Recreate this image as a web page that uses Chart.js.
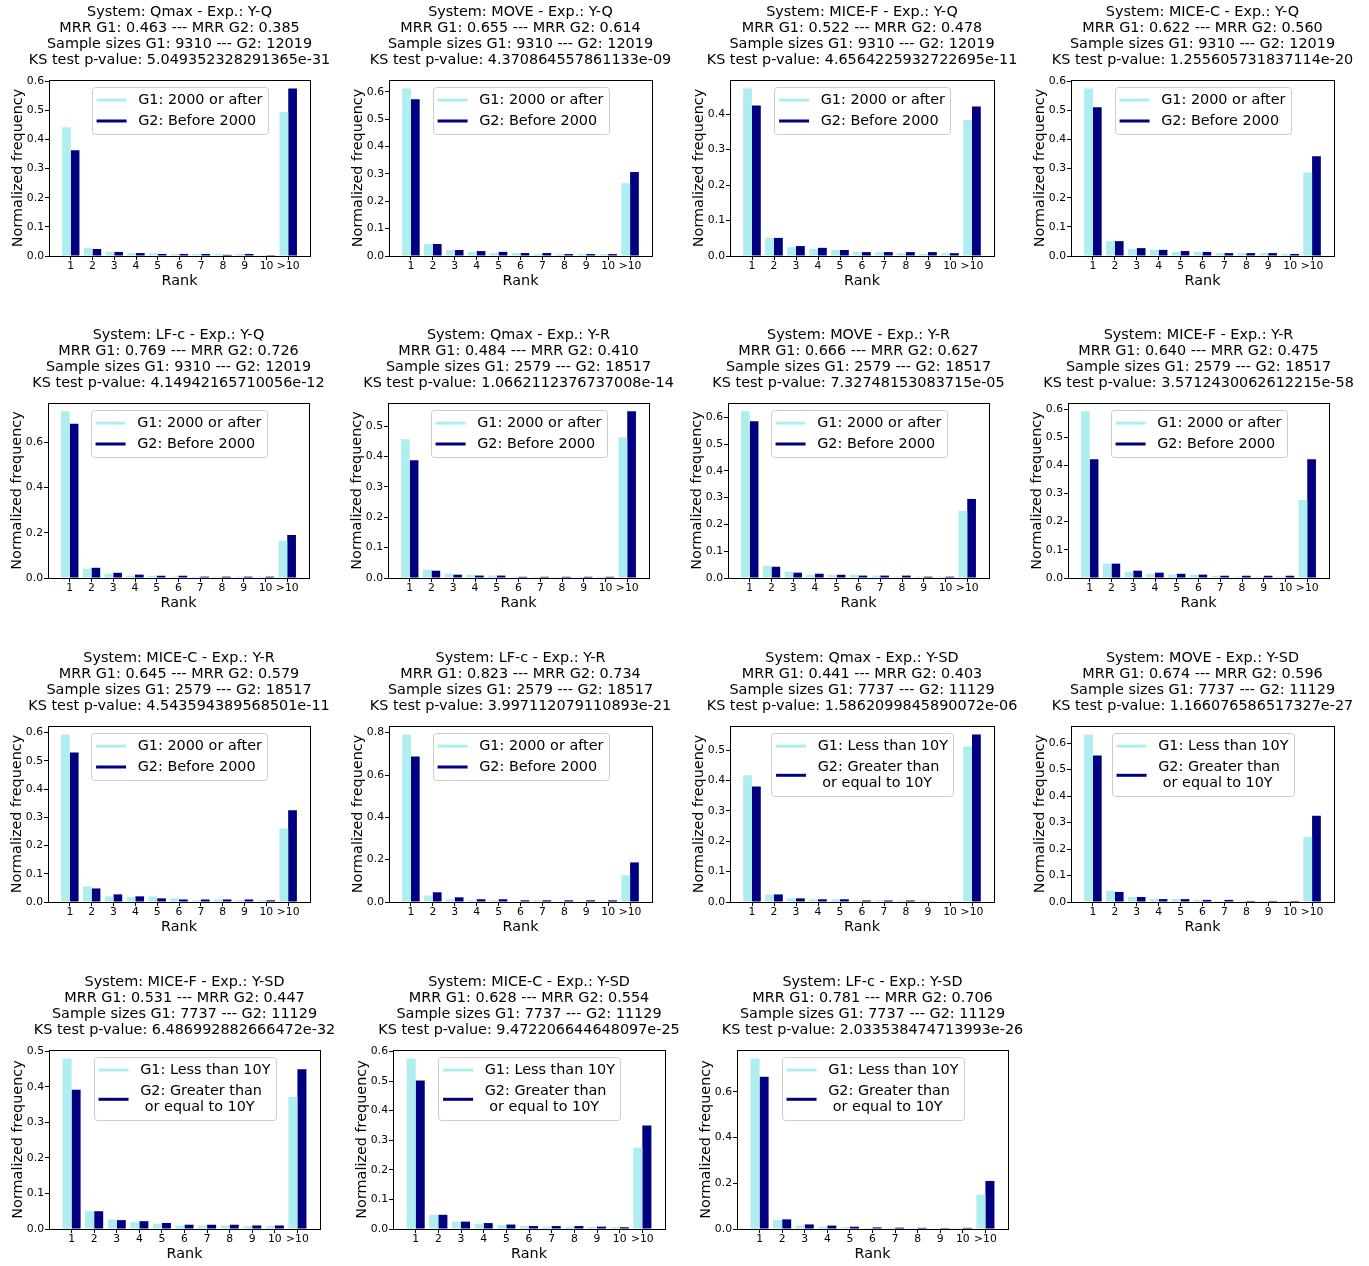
<!DOCTYPE html>
<html>
<head>
<meta charset="utf-8">
<script src="https://cdn.jsdelivr.net/npm/chart.js@4.4.0/dist/chart.umd.min.js"></script>
<style>
  html, body { margin: 0; padding: 0; background: #fff; overflow: hidden; }
  body { width: 1369px; height: 1266px; position: relative; }
  .cell { position: absolute; }
</style>
</head>
<body>
<div id="grid"></div>
<script>
const rankLabels = ['1', '2', '3', '4', '5', '6', '7', '8', '9', '10', '>10'];
const systems = ['Qmax', 'MOVE', 'MICE-F', 'MICE-C', 'LF-c', 'Qmax', 'MOVE', 'MICE-F', 'MICE-C', 'LF-c', 'Qmax', 'MOVE', 'MICE-F', 'MICE-C', 'LF-c'];
const experiments = ['Y-Q', 'Y-Q', 'Y-Q', 'Y-Q', 'Y-Q', 'Y-R', 'Y-R', 'Y-R', 'Y-R', 'Y-R', 'Y-SD', 'Y-SD', 'Y-SD', 'Y-SD', 'Y-SD'];
const mrrG1 = ['0.463', '0.655', '0.522', '0.622', '0.769', '0.484', '0.666', '0.640', '0.645', '0.823', '0.441', '0.674', '0.531', '0.628', '0.781'];
const mrrG2 = ['0.385', '0.614', '0.478', '0.560', '0.726', '0.410', '0.627', '0.475', '0.579', '0.734', '0.403', '0.596', '0.447', '0.554', '0.706'];
const sizeG1 = [9310, 9310, 9310, 9310, 9310, 2579, 2579, 2579, 2579, 2579, 7737, 7737, 7737, 7737, 7737];
const sizeG2 = [12019, 12019, 12019, 12019, 12019, 18517, 18517, 18517, 18517, 18517, 11129, 11129, 11129, 11129, 11129];
const ksPValues = ['5.049352328291365e-31', '4.370864557861133e-09', '4.6564225932722695e-11', '1.255605731837114e-20',
  '4.14942165710056e-12', '1.0662112376737008e-14', '7.32748153083715e-05', '3.5712430062612215e-58',
  '4.543594389568501e-11', '3.997112079110893e-21', '1.5862099845890072e-06', '1.166076586517327e-27',
  '6.486992882666472e-32', '9.472206644648097e-25', '2.033538474713993e-26'];

// legend names per experiment
const expNames = ['Y-Q', 'Y-R', 'Y-SD'];
const g1Names = ['G1: 2000 or after', 'G1: 2000 or after', 'G1: Less than 10Y'];
const g2Names = ['G2: Before 2000', 'G2: Before 2000', 'G2: Greater than\n or equal to 10Y'];

// normalized frequency per rank (1..10, >10)
const g1Freq = [
  [0.442, 0.027, 0.014, 0.010, 0.010, 0.007, 0.007, 0.007, 0.007, 0.003, 0.494],
  [0.613, 0.044, 0.022, 0.015, 0.011, 0.011, 0.007, 0.007, 0.007, 0.007, 0.266],
  [0.473, 0.051, 0.025, 0.020, 0.017, 0.011, 0.011, 0.008, 0.006, 0.008, 0.384],
  [0.575, 0.051, 0.024, 0.021, 0.014, 0.014, 0.010, 0.010, 0.010, 0.007, 0.287],
  [0.736, 0.041, 0.019, 0.010, 0.010, 0.006, 0.006, 0.006, 0.006, 0.006, 0.164],
  [0.457, 0.027, 0.014, 0.011, 0.008, 0.004, 0.004, 0.004, 0.004, 0.004, 0.464],
  [0.622, 0.046, 0.024, 0.012, 0.012, 0.012, 0.009, 0.005, 0.005, 0.005, 0.250],
  [0.592, 0.051, 0.022, 0.015, 0.012, 0.012, 0.008, 0.005, 0.005, 0.005, 0.277],
  [0.594, 0.055, 0.020, 0.017, 0.020, 0.013, 0.006, 0.009, 0.006, 0.006, 0.261],
  [0.792, 0.031, 0.013, 0.008, 0.008, 0.002, 0.008, 0.002, 0.002, 0.002, 0.126],
  [0.417, 0.025, 0.012, 0.009, 0.009, 0.005, 0.005, 0.005, 0.005, 0.001, 0.512],
  [0.633, 0.042, 0.019, 0.011, 0.011, 0.008, 0.004, 0.004, 0.004, 0.004, 0.246],
  [0.480, 0.050, 0.027, 0.020, 0.015, 0.010, 0.010, 0.010, 0.008, 0.008, 0.372],
  [0.576, 0.048, 0.025, 0.018, 0.013, 0.010, 0.008, 0.008, 0.007, 0.006, 0.275],
  [0.745, 0.040, 0.015, 0.010, 0.008, 0.005, 0.005, 0.004, 0.003, 0.004, 0.150]
];
const g2Freq = [
  [0.363, 0.024, 0.014, 0.010, 0.007, 0.007, 0.007, 0.004, 0.007, 0.003, 0.575],
  [0.573, 0.044, 0.022, 0.018, 0.015, 0.011, 0.011, 0.007, 0.007, 0.007, 0.307],
  [0.425, 0.051, 0.028, 0.023, 0.017, 0.011, 0.011, 0.011, 0.011, 0.008, 0.422],
  [0.510, 0.051, 0.027, 0.021, 0.017, 0.014, 0.010, 0.010, 0.010, 0.007, 0.342],
  [0.681, 0.045, 0.023, 0.015, 0.010, 0.010, 0.006, 0.006, 0.006, 0.006, 0.190],
  [0.388, 0.024, 0.011, 0.008, 0.008, 0.004, 0.004, 0.004, 0.004, 0.004, 0.549],
  [0.585, 0.042, 0.020, 0.016, 0.012, 0.009, 0.009, 0.009, 0.005, 0.005, 0.295],
  [0.422, 0.051, 0.026, 0.019, 0.015, 0.012, 0.008, 0.008, 0.008, 0.008, 0.422],
  [0.530, 0.048, 0.027, 0.020, 0.013, 0.009, 0.009, 0.009, 0.009, 0.006, 0.325],
  [0.688, 0.046, 0.022, 0.013, 0.013, 0.008, 0.008, 0.008, 0.008, 0.008, 0.187],
  [0.380, 0.025, 0.012, 0.009, 0.009, 0.005, 0.005, 0.005, 0.002, 0.002, 0.552],
  [0.553, 0.038, 0.019, 0.011, 0.011, 0.008, 0.008, 0.004, 0.004, 0.004, 0.326],
  [0.392, 0.050, 0.025, 0.022, 0.017, 0.012, 0.012, 0.012, 0.010, 0.010, 0.450],
  [0.502, 0.048, 0.025, 0.020, 0.015, 0.010, 0.010, 0.010, 0.008, 0.006, 0.350],
  [0.665, 0.042, 0.020, 0.015, 0.010, 0.007, 0.006, 0.005, 0.004, 0.005, 0.210]
];

// plot area of each subplot on the page: [left, top, right, bottom]
const plotBoxes = [
  [49, 80, 310, 256], [389, 80, 652, 256], [730, 80, 994, 256], [1071, 80, 1334, 256],
  [48, 403, 309, 578], [388, 403, 649, 578], [728, 403, 989, 578], [1068, 403, 1329, 578],
  [48, 726, 310, 902], [389, 726, 652, 902], [730, 726, 994, 902], [1071, 726, 1334, 902],
  [49, 1050, 320, 1229], [393, 1050, 665, 1229], [737, 1050, 1008, 1229]
];

const FONT = 'DejaVu Sans';
const G1_COLOR = '#afeeee';
const G2_COLOR = '#000080';
Chart.defaults.font.family = FONT;
Chart.defaults.color = '#000';

const align = v => Math.round(v - 0.5) + 0.5;

// keep the title centred over the plot, like matplotlib
const centerTitle = {
  id: 'centerTitle',
  afterLayout(chart) {
    const t = chart.titleBlock, a = chart.chartArea;
    const cx = (a.left + a.right) / 2;
    t.left = cx - 200;
    t.right = cx + 200;
  }
};

// box spines on all four sides
const frame = {
  id: 'frame',
  afterDatasetsDraw(chart) {
    const {ctx, chartArea: a} = chart;
    ctx.save();
    ctx.strokeStyle = '#000';
    ctx.lineWidth = 1;
    ctx.strokeRect(align(a.left), align(a.top), align(a.right) - align(a.left), align(a.bottom) - align(a.top));
    ctx.restore();
  }
};

// matplotlib-style legend box, upper centre of the axes
const boxLegend = {
  id: 'boxLegend',
  afterDraw(chart) {
    const {ctx, chartArea: a} = chart;
    const fs = 14.4, lh = 16.6, padX = 5, padY = 4.6, gap = 4.3, hl = 30, htp = 11.6;
    ctx.save();
    ctx.font = fs + 'px "' + FONT + '"';
    const entries = chart.data.datasets.map(ds => ({lines: ds.label.split('\n'), color: ds.backgroundColor}));
    let textW = 0, nLines = 0;
    entries.forEach(e => e.lines.forEach(l => { textW = Math.max(textW, ctx.measureText(l).width); nLines++; }));
    const w = padX + hl + htp + textW + padX;
    const h = 2 * padY + nLines * lh + gap * (entries.length - 1);
    const x0 = (a.left + a.right) / 2 - w / 2;
    const y0 = a.top + 7.2;
    ctx.beginPath();
    ctx.roundRect(Math.round(x0) + 0.5, Math.round(y0) + 0.5, Math.round(w), Math.round(h), 3);
    ctx.fillStyle = 'rgba(255,255,255,0.8)';
    ctx.fill();
    ctx.strokeStyle = '#cccccc';
    ctx.lineWidth = 1;
    ctx.stroke();
    let y = y0 + padY;
    entries.forEach(e => {
      const eh = e.lines.length * lh;
      const cy = y + eh / 2;
      ctx.beginPath();
      ctx.moveTo(x0 + padX, cy);
      ctx.lineTo(x0 + padX + hl, cy);
      ctx.strokeStyle = e.color;
      ctx.lineWidth = 3;
      ctx.stroke();
      ctx.fillStyle = '#000';
      ctx.textBaseline = 'middle';
      ctx.textAlign = 'left';
      e.lines.forEach((l, k) => ctx.fillText(l, x0 + padX + hl + htp, y + lh / 2 + k * lh));
      y += eh + gap;
    });
    ctx.restore();
  }
};

const grid = document.getElementById('grid');

systems.forEach((sys, i) => {
  const [L, T, R, B] = plotBoxes[i];
  const e = expNames.indexOf(experiments[i]);
  const W = R - L + 96, H = B - T + 80 + 34;
  const div = document.createElement('div');
  div.className = 'cell';
  div.style.left = (L - 48) + 'px';
  div.style.top = (T - 80) + 'px';
  const canvas = document.createElement('canvas');
  canvas.width = W;
  canvas.height = H;
  canvas.style.width = W + 'px';
  canvas.style.height = H + 'px';
  div.appendChild(canvas);
  grid.appendChild(div);

  const yMax = Math.max(...g1Freq[i], ...g2Freq[i]) * 1.05;
  const step = yMax > 0.7 ? 0.2 : 0.1;

  new Chart(canvas, {
    type: 'bar',
    data: {
      datasets: [
        {label: g1Names[e], data: g1Freq[i].map((v, k) => ({x: k + 1, y: v})), backgroundColor: G1_COLOR},
        {label: g2Names[e], data: g2Freq[i].map((v, k) => ({x: k + 1, y: v})), backgroundColor: G2_COLOR}
      ]
    },
    options: {
      responsive: false,
      animation: false,
      devicePixelRatio: 1,
      layout: {padding: {left: 0, right: 48, top: 0, bottom: 0}},
      datasets: {bar: {categoryPercentage: 0.8, barPercentage: 1, borderWidth: 0}},
      plugins: {
        legend: {display: false},
        tooltip: {enabled: false},
        title: {
          display: true,
          text: [
            'System: ' + sys + ' - Exp.: ' + experiments[i],
            'MRR G1: ' + mrrG1[i] + ' --- MRR G2: ' + mrrG2[i],
            'Sample sizes G1: ' + sizeG1[i] + ' --- G2: ' + sizeG2[i],
            'KS test p-value: ' + ksPValues[i]
          ],
          color: '#000',
          font: {size: 14.4, weight: 'normal', lineHeight: '15.8px'},
          padding: {top: 4.8, bottom: 12}
        }
      },
      scales: {
        x: {
          type: 'linear',
          bounds: 'data',
          offset: false,
          min: 0,
          max: 12,
          afterBuildTicks: s => { s.ticks = rankLabels.map((_, k) => ({value: k + 1})); },
          afterFit: s => { s.height = 34; },
          ticks: {
            callback: v => rankLabels[Math.round(v) - 1],
            font: {size: 10.8},
            color: '#000',
            padding: 0,
            maxRotation: 0,
            autoSkip: false
          },
          grid: {offset: false, drawOnChartArea: false, drawTicks: true, tickLength: 4, color: '#000'},
          border: {display: false},
          title: {display: true, text: 'Rank', color: '#000', font: {size: 14.4}, padding: {top: 0, bottom: 0}}
        },
        y: {
          bounds: 'data',
          min: 0,
          max: yMax,
          afterFit: s => { s.width = 48; },
          ticks: {
            stepSize: step,
            includeBounds: false,
            callback: v => v.toFixed(1),
            font: {size: 10.8},
            color: '#000',
            padding: 1
          },
          grid: {drawOnChartArea: false, drawTicks: true, tickLength: 4, color: '#000'},
          border: {display: false},
          title: {display: true, text: 'Normalized frequency', color: '#000', font: {size: 14.4}, padding: {top: 8.4, bottom: 0}}
        }
      }
    },
    plugins: [centerTitle, frame, boxLegend]
  });
});
</script>
</body>
</html>
